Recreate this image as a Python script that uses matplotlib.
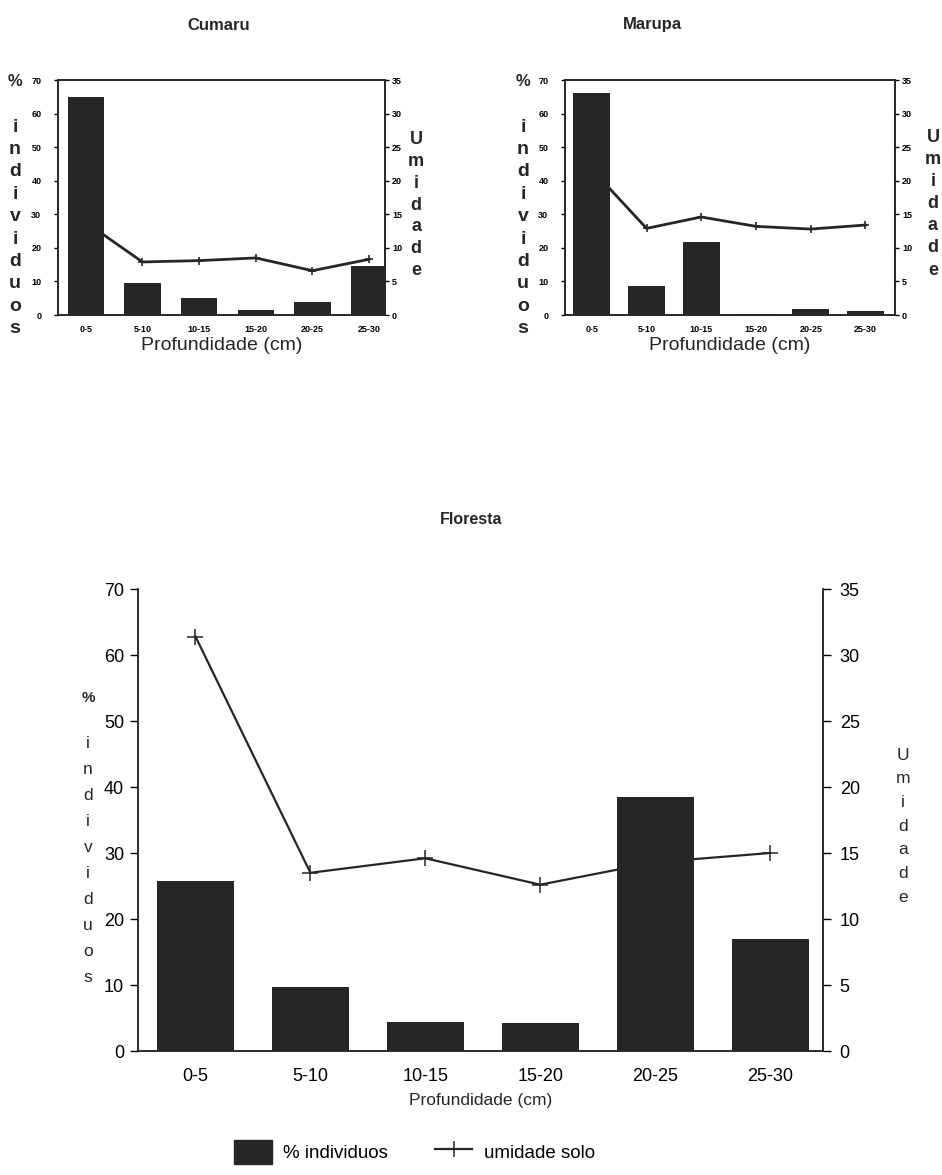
import numpy as np
import matplotlib.pyplot as plt
from matplotlib.patches import Patch
from matplotlib.lines import Line2D

plt.rcParams['font.family'] = ['Liberation Sans', 'DejaVu Sans']

classes = ["0-5", "5-10", "10-15", "15-20", "20-25", "25-30"]

cumaru_ind = [65, 9.5, 5, 1.5, 4, 14.5]
cumaru_umid = [13.8, 7.9, 8.1, 8.5, 6.6, 8.3]

marupa_ind = [66, 8.7, 21.6, 0.3, 1.8, 1.3]
marupa_umid = [21.7, 12.9, 14.6, 13.2, 12.8, 13.4]

floresta_ind = [25.8, 9.7, 4.4, 4.2, 38.5, 17.0]
floresta_umid = [31.4, 13.5, 14.6, 12.6, 14.3, 15.0]

W, H = 942, 1175
fig = plt.figure(figsize=(W / 100, H / 100), dpi=100)
dark = '#262626'


def stack(x, y_top, word, spacing, size, weight='bold'):
    # vertical label, one letter below the other
    for i, ch in enumerate(word):
        fig.text(x / W, 1 - (y_top + i * spacing) / H, ch, ha='center', va='center',
                 fontsize=size, fontweight=weight, color=dark)


def small_panel(rect, ind, umid, xlim, width, title, tx):
    ax = fig.add_axes(rect)
    ax2 = ax.twinx()
    x = np.arange(len(classes))
    ax2.plot(x, umid, color=dark, lw=2, marker='+', ms=6, mew=1.2)
    ax.bar(x, ind, width=width, color=dark)
    ax.set_zorder(ax2.get_zorder() + 1)
    ax.patch.set_visible(False)
    ax.set_xlim(*xlim)
    ax.set_ylim(0, 70)
    ax2.set_ylim(0, 35)
    ax.set_yticks(range(0, 71, 10))
    ax2.set_yticks(range(0, 36, 5))
    ax.set_xticks(x)
    ax.set_xticklabels(classes)
    ax.tick_params(axis='x', length=0, pad=7, labelsize=6.5)
    ax.tick_params(axis='y', length=3, width=1, pad=9, labelsize=6.5)
    ax2.tick_params(axis='y', length=3, width=1, pad=2, labelsize=6.5)
    for a in (ax, ax2):
        for lab in a.get_xticklabels() + a.get_yticklabels():
            lab.set_fontweight('bold')
        for s in a.spines.values():
            s.set_linewidth(1.2)
            s.set_color(dark)
    ax.set_xlabel("Profundidade (cm)", fontsize=14, labelpad=2, color=dark)
    fig.text(tx / W, 1 - 25 / H, title, ha='center', va='center', fontsize=12,
             fontweight='bold', color=dark)
    return ax


small_panel([58 / W, 1 - 315 / H, 327 / W, 235 / H], cumaru_ind, cumaru_umid,
            (-0.49, 5.28), 0.64, "Cumaru", 219)
small_panel([565 / W, 1 - 315 / H, 330 / W, 235 / H], marupa_ind, marupa_umid,
            (-0.49, 5.54), 0.67, "Marupa", 652)

stack(15, 82, "%", 0, 12)
stack(15, 127, "individuos", 22.4, 14)
stack(416, 140, "Umidade", 21.7, 13)
stack(523, 82, "%", 0, 12)
stack(523, 127, "individuos", 22.4, 14)
stack(933, 137, "Umidade", 22.2, 13)

# Floresta
ax = fig.add_axes([138 / W, 1 - 1051 / H, 685 / W, 462 / H])
ax2 = ax.twinx()
x = np.arange(len(classes))
ax2.plot(x, floresta_umid, color=dark, lw=1.6, marker='+', ms=12, mew=1.1)
ax.bar(x, floresta_ind, width=0.67, color=dark)
ax.set_zorder(ax2.get_zorder() + 1)
ax.patch.set_visible(False)
ax.set_xlim(-0.5, 5.46)
ax.set_ylim(0, 70)
ax2.set_ylim(0, 35)
ax.set_yticks(range(0, 71, 10))
ax2.set_yticks(range(0, 36, 5))
ax.set_xticks(x)
ax.set_xticklabels(classes)
ax.tick_params(axis='x', length=0, pad=12, labelsize=13)
ax.tick_params(axis='y', length=6, width=1, pad=4, labelsize=13)
ax2.tick_params(axis='y', length=6, width=1, pad=6, labelsize=13)
for a in (ax, ax2):
    a.spines['top'].set_visible(False)
    for s in a.spines.values():
        s.set_linewidth(1.1)
        s.set_color(dark)
ax.set_xlabel("Profundidade (cm)", fontsize=12.5, labelpad=6, color=dark)

fig.text(471 / W, 1 - 520 / H, "Floresta", ha='center', va='center', fontsize=11.5,
         fontweight='bold', color=dark)
stack(88, 698, "%", 0, 11, 'bold')
stack(88, 743, "individuos", 26, 12.5, 'normal')
stack(903, 755, "Umidade", 23.7, 12.5, 'normal')

handles = [Patch(color=dark), Line2D([], [], color=dark, lw=1.6, marker='+', ms=12, mew=1.1)]
fig.legend(handles, ["% individuos", "umidade solo"], loc='center', ncol=2,
           bbox_to_anchor=(0.44, 1 - 1152 / H), frameon=False, fontsize=13.5,
           handlelength=2.0, handleheight=1.6, columnspacing=2.5, handletextpad=0.6)

fig.savefig("out.png", dpi=100, facecolor='white')
